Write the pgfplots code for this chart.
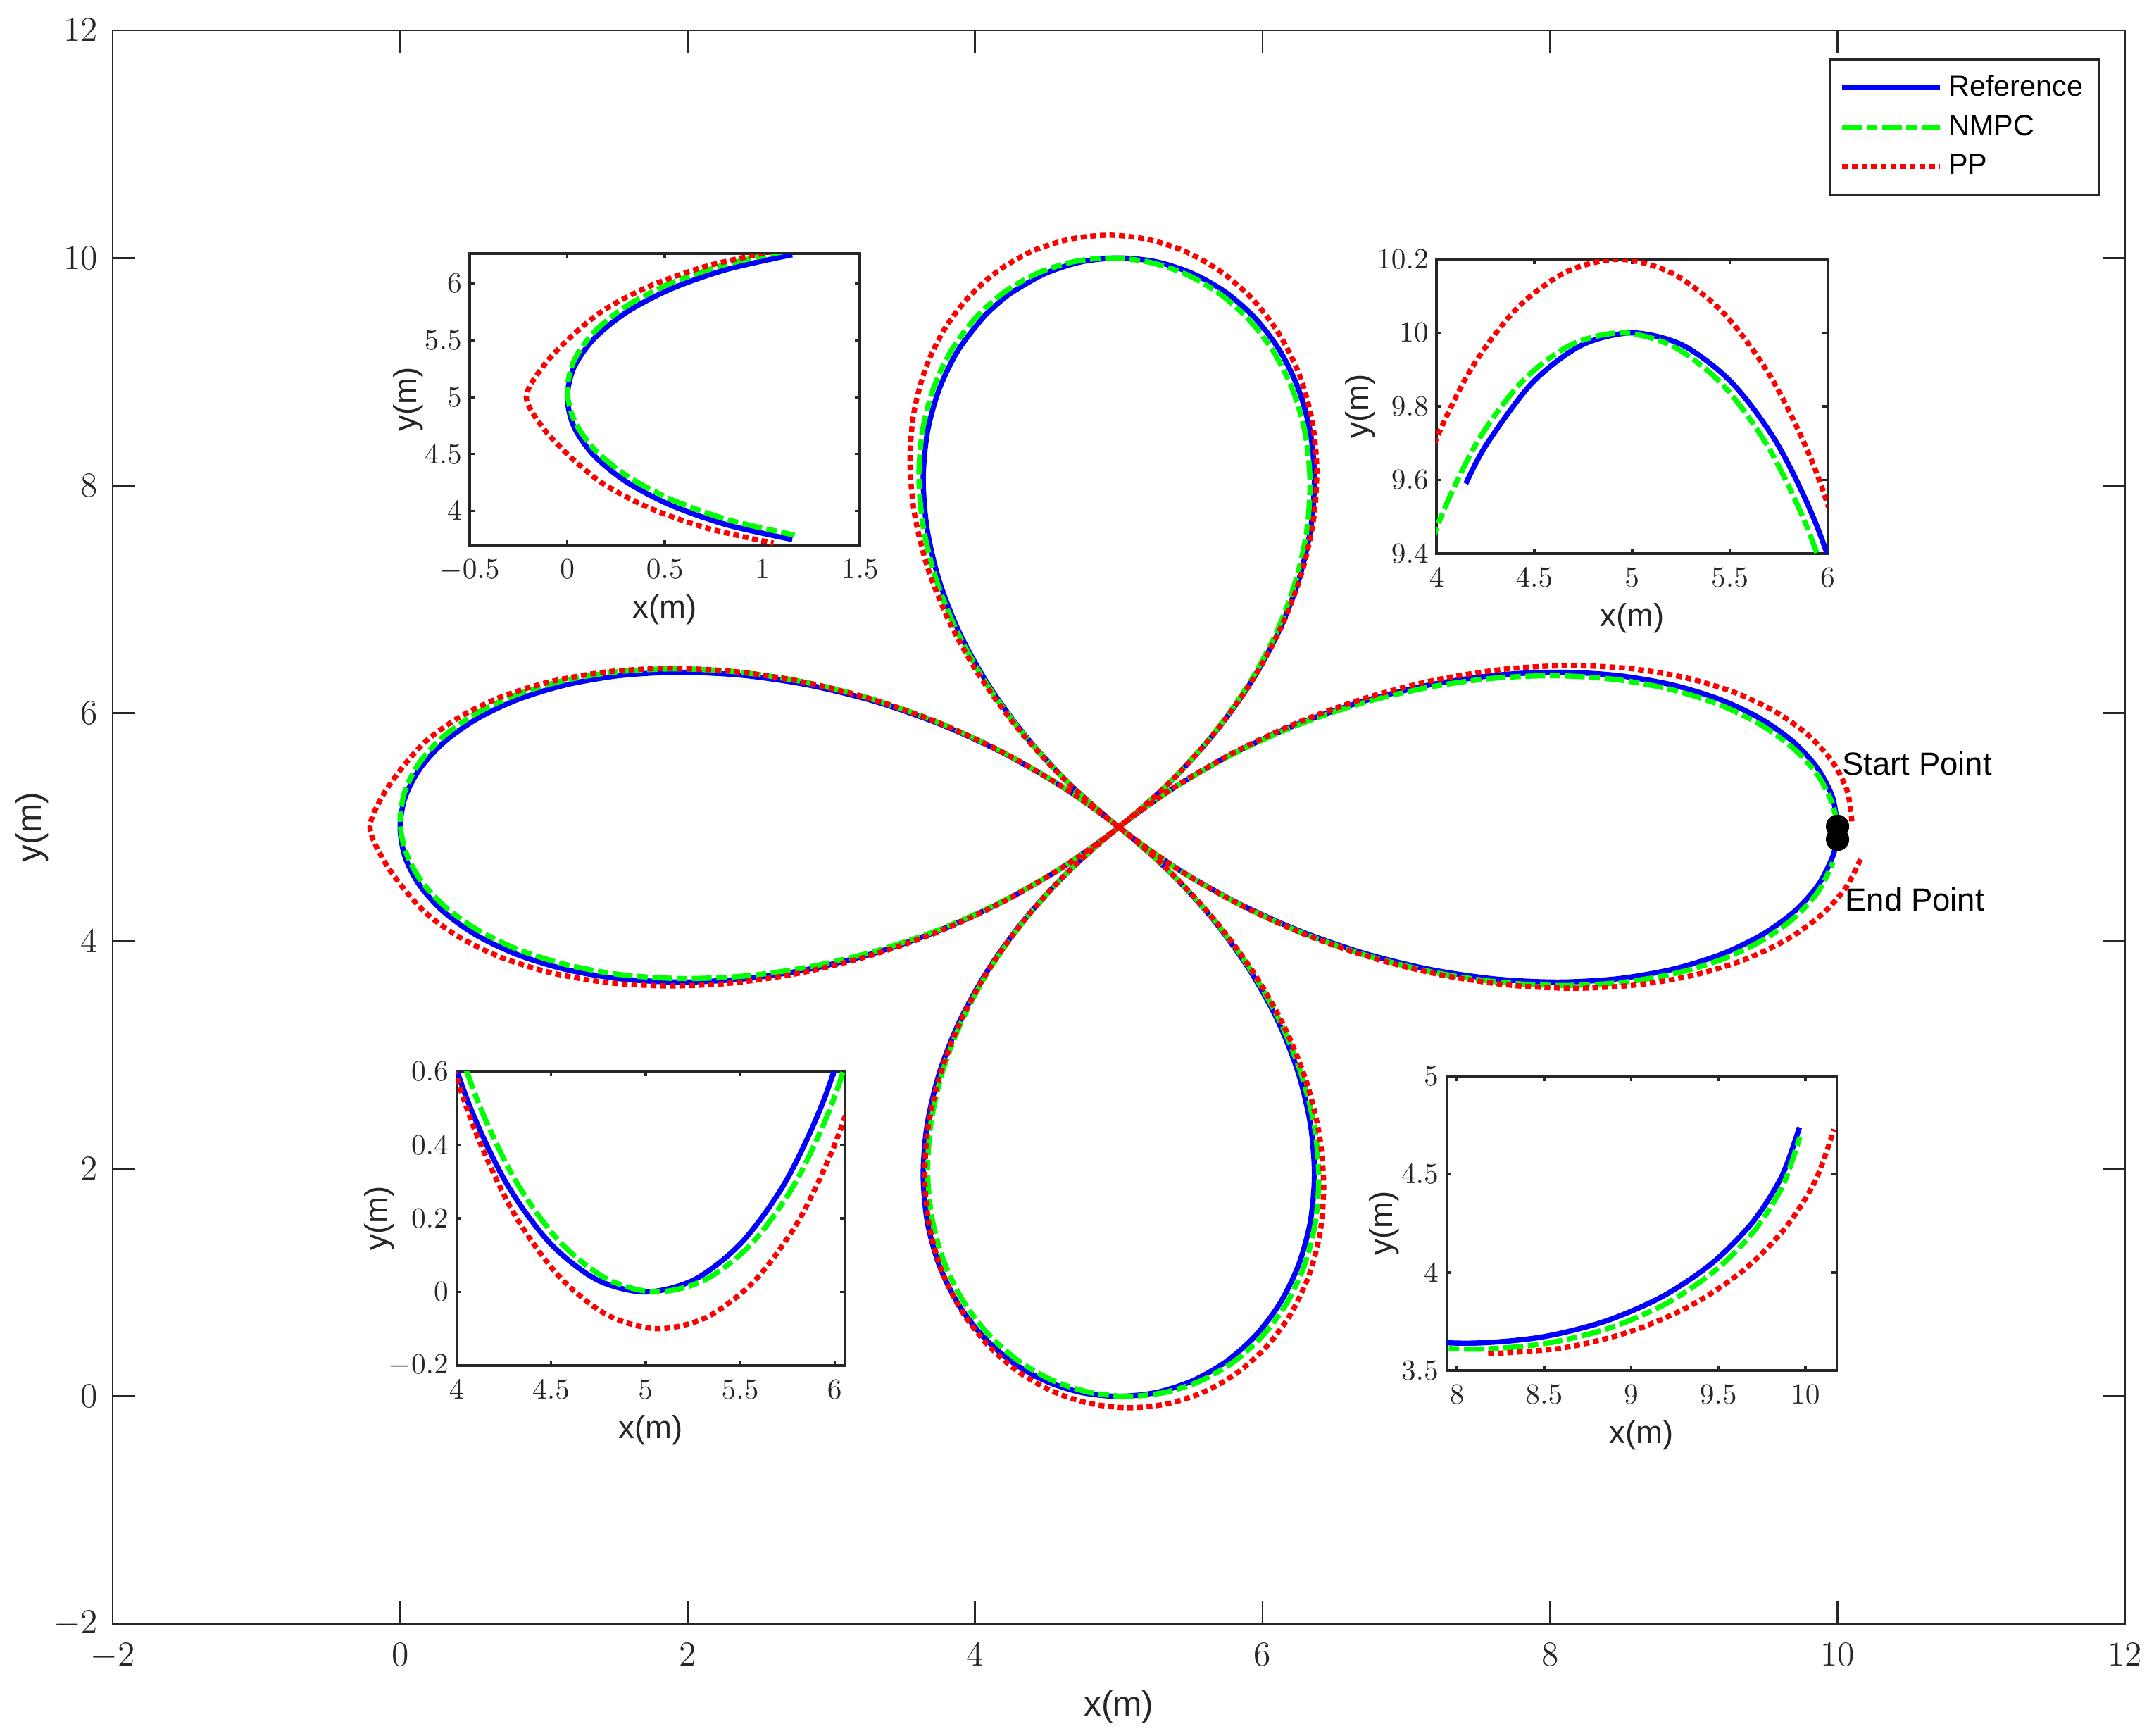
\documentclass[border=0pt]{standalone}
\usepackage{fontspec}
\setmainfont{Liberation Sans}
\usepackage{pgfplots}
\usepackage{pgfplotstable}
\pgfplotsset{compat=1.18}

\definecolor{mgray}{rgb}{0.15,0.15,0.15}
\definecolor{mblue}{rgb}{0,0,1}
\definecolor{mgreen}{rgb}{0,1,0}
\definecolor{mred}{rgb}{1,0,0}

% reference path
\pgfplotstableread{
x y
10.000 5.000
9.966 5.260
9.864 5.511
9.697 5.744
9.468 5.950
9.183 6.121
8.847 6.250
8.469 6.332
8.056 6.361
7.619 6.334
7.165 6.250
6.706 6.108
6.250 5.908
5.808 5.654
5.388 5.350
5.000 5.000
4.650 4.612
4.346 4.192
4.092 3.750
3.892 3.294
3.750 2.835
3.666 2.381
3.639 1.944
3.668 1.531
3.750 1.153
3.879 0.818
4.050 0.532
4.256 0.303
4.489 0.136
4.740 0.034
5.000 0.000
5.260 0.034
5.511 0.136
5.744 0.303
5.950 0.532
6.121 0.818
6.250 1.153
6.332 1.531
6.361 1.944
6.334 2.381
6.250 2.835
6.108 3.294
5.908 3.750
5.654 4.192
5.350 4.612
5.000 5.000
4.612 5.350
4.192 5.654
3.750 5.908
3.294 6.108
2.835 6.250
2.381 6.334
1.944 6.361
1.531 6.332
1.153 6.250
0.818 6.121
0.532 5.950
0.303 5.744
0.136 5.511
0.034 5.260
0.000 5.000
0.034 4.740
0.136 4.489
0.303 4.256
0.532 4.050
0.818 3.879
1.153 3.750
1.531 3.668
1.944 3.639
2.381 3.666
2.835 3.750
3.294 3.892
3.750 4.092
4.192 4.346
4.612 4.650
5.000 5.000
5.350 5.388
5.654 5.808
5.908 6.250
6.108 6.706
6.250 7.165
6.334 7.619
6.361 8.056
6.332 8.469
6.250 8.847
6.121 9.183
5.950 9.468
5.744 9.697
5.511 9.864
5.260 9.966
5.000 10.000
4.740 9.966
4.489 9.864
4.256 9.697
4.150 9.590
4.050 9.468
3.879 9.183
3.750 8.847
3.668 8.469
3.639 8.056
3.666 7.619
3.750 7.165
3.892 6.706
4.092 6.250
4.346 5.808
4.650 5.388
5.000 5.000
5.388 4.650
5.808 4.346
6.250 4.092
6.706 3.892
7.165 3.750
7.619 3.666
8.056 3.639
8.469 3.668
8.847 3.750
9.183 3.879
9.468 4.050
9.697 4.256
9.864 4.489
9.966 4.740
9.994 4.887
}\refdata

% NMPC tracking
\pgfplotstableread{
x y
10.000 5.000
9.963 5.210
9.859 5.463
9.689 5.697
9.458 5.905
9.171 6.079
8.835 6.211
8.456 6.297
8.043 6.330
7.605 6.308
7.153 6.228
6.695 6.091
6.241 5.896
5.801 5.646
5.385 5.346
5.000 5.000
4.654 4.615
4.354 4.199
4.104 3.759
3.910 3.305
3.772 2.847
3.692 2.395
3.670 1.957
3.703 1.544
3.789 1.165
3.921 0.829
4.095 0.542
4.303 0.311
4.538 0.141
4.790 0.037
5.050 0.000
5.310 0.032
5.560 0.131
5.791 0.296
5.994 0.523
6.162 0.806
6.288 1.140
6.366 1.518
6.391 1.930
6.361 2.368
6.272 2.822
6.125 3.283
5.921 3.741
5.662 4.186
5.354 4.608
5.000 5.000
4.608 5.354
4.186 5.662
3.741 5.921
3.283 6.125
2.822 6.272
2.368 6.361
1.930 6.391
1.518 6.366
1.140 6.288
0.806 6.162
0.523 5.994
0.296 5.791
0.131 5.560
0.032 5.310
0.000 5.050
0.037 4.790
0.141 4.538
0.311 4.303
0.542 4.095
0.829 3.921
1.165 3.789
1.544 3.703
1.957 3.670
2.395 3.692
2.847 3.772
3.305 3.910
3.759 4.104
4.199 4.354
4.615 4.654
5.000 5.000
5.346 5.385
5.646 5.801
5.896 6.241
6.091 6.695
6.228 7.153
6.308 7.605
6.330 8.043
6.297 8.456
6.211 8.835
6.079 9.171
5.905 9.458
5.697 9.689
5.463 9.859
5.210 9.963
4.950 10.000
4.690 9.968
4.440 9.869
4.209 9.704
4.006 9.477
3.838 9.194
3.712 8.860
3.634 8.482
3.609 8.070
3.640 7.632
3.728 7.178
3.875 6.717
4.079 6.259
4.338 5.814
4.646 5.392
5.000 5.000
5.392 4.646
5.814 4.338
6.259 4.079
6.717 3.875
7.178 3.728
7.632 3.640
8.070 3.609
8.482 3.634
8.860 3.712
9.194 3.838
9.477 4.006
9.704 4.209
9.869 4.440
9.968 4.690
}\nmpcdata

% pure pursuit tracking
\pgfplotstableread{
x y
10.100 5.051
10.068 5.316
9.966 5.571
9.798 5.807
9.567 6.014
9.278 6.186
8.937 6.314
8.552 6.394
8.131 6.419
7.685 6.388
7.221 6.297
6.751 6.147
6.284 5.939
5.831 5.676
5.400 5.361
5.000 5.000
4.648 4.608
4.343 4.184
4.089 3.736
3.891 3.274
3.752 2.807
3.671 2.345
3.650 1.899
3.684 1.478
3.772 1.091
3.908 0.748
4.086 0.455
4.299 0.218
4.538 0.045
4.796 -0.062
5.061 -0.100
5.326 -0.068
5.581 0.033
5.816 0.200
6.023 0.431
6.194 0.720
6.322 1.061
6.401 1.445
6.425 1.866
6.393 2.313
6.302 2.776
6.151 3.247
5.942 3.714
5.677 4.168
5.362 4.600
5.000 5.000
4.602 5.358
4.172 5.671
3.719 5.931
3.252 6.135
2.781 6.281
2.316 6.368
1.867 6.395
1.444 6.365
1.057 6.281
0.713 6.149
0.421 5.973
0.186 5.762
0.015 5.524
-0.125 5.268
-0.210 5.000
-0.125 4.732
0.015 4.476
0.186 4.238
0.421 4.027
0.713 3.851
1.057 3.719
1.444 3.635
1.867 3.605
2.316 3.632
2.781 3.719
3.252 3.865
3.719 4.069
4.172 4.329
4.602 4.642
5.000 5.000
5.359 5.399
5.670 5.832
5.929 6.289
6.131 6.760
6.273 7.236
6.355 7.707
6.377 8.162
6.342 8.591
6.252 8.986
6.113 9.336
5.932 9.635
5.715 9.875
5.471 10.052
5.209 10.161
4.938 10.200
4.668 10.167
4.408 10.065
4.168 9.894
3.957 9.658
3.782 9.364
3.652 9.017
3.572 8.624
3.547 8.196
3.580 7.740
3.673 7.267
3.827 6.788
4.040 6.311
4.310 5.848
4.631 5.408
5.000 5.000
5.404 4.636
5.840 4.320
6.300 4.055
6.774 3.848
7.252 3.700
7.723 3.612
8.179 3.585
8.608 3.615
9.001 3.700
9.350 3.835
9.646 4.012
9.885 4.227
10.058 4.469
10.164 4.730
}\ppdata

\pgfplotsset{
  refline/.style={mblue, line width=1.8pt, smooth},
  nmpcline/.style={mgreen, line width=1.8pt, smooth,
    dash pattern=on 6.8pt off 1.6pt on 3.6pt off 1.6pt},
  ppline/.style={mred, line width=1.8pt, smooth, dash pattern=on 2pt off 1.3pt},
  inset/.style={
    scale only axis, anchor=south west, width=4.71cm, height=3.54cm,
    axis background/.style={fill=white},
    tick align=inside, major tick length=0.06cm,
    xtick pos=both, ytick pos=both,
    axis line style={mgray, line width=0.85pt},
    tick style={mgray, line width=0.85pt},
    tick label style={font=\fontsize{10}{11}\selectfont, color=mgray, inner sep=0pt},
    xticklabel style={yshift=-0.17cm},
    yticklabel style={xshift=-0.09cm},
    label style={font=\fontsize{11}{13}\selectfont, color=mgray},
    xlabel={x(m)}, ylabel={y(m)},
    x label style={at={(axis description cs:0.5,-0.22)}, anchor=center},
    unbounded coords=jump,
  },
}

\begin{document}
\begin{tikzpicture}
\useasboundingbox (-1.36cm,-1.351cm) rectangle (24.64cm,19.60cm);

\begin{axis}[
  at={(0,0)}, anchor=south west,
  scale only axis, width=24.29cm, height=19.235cm,
  xmin=-2, xmax=12, ymin=-2, ymax=12,
  xtick={-2,0,...,12}, ytick={-2,0,...,12},
  tick align=inside, major tick length=0.27cm,
  xtick pos=both, ytick pos=both,
  axis line style={mgray, line width=0.65pt},
  tick style={mgray, line width=0.65pt},
  tick label style={font=\fontsize{12}{14}\selectfont, color=mgray, inner sep=0pt},
  xticklabel style={yshift=-0.23cm},
  yticklabel style={xshift=-0.17cm},
  xlabel={x(m)}, ylabel={y(m)},
  label style={font=\fontsize{12}{14}\selectfont, color=mgray},
  x label style={at={(axis description cs:0.5,-0.052)}, anchor=center},
  y label style={at={(axis description cs:-0.040,0.5)}, anchor=center},
  legend style={at={(axis description cs:1,1)}, anchor=north east,
    xshift=-0.306cm, yshift=-0.34cm, draw=mgray, line width=0.65pt,
    font=\fontsize{10}{12}\selectfont, text=black,
    inner xsep=0.12cm, inner ysep=0.12cm, row sep=1pt,
    /tikz/every even column/.append style={column sep=0.1cm}},
  legend cell align=left,
  legend image code/.code={\draw[#1] (0cm,0cm) -- (1.18cm,0cm);},
]
\addplot[refline] table {\refdata};
\addlegendentry{Reference}
\addplot[nmpcline] table {\nmpcdata};
\addlegendentry{NMPC}
\addplot[ppline] table {\ppdata};
\addlegendentry{PP}
\addplot[only marks, mark=*, mark size=3.8pt, black, forget plot]
  coordinates {(10,5.007) (10,4.893)};
\node[anchor=base west, inner sep=0pt, font=\fontsize{11}{13}\selectfont] at (axis cs:10.03,5.456) {Start Point};
\node[anchor=base west, inner sep=0pt, font=\fontsize{11}{13}\selectfont] at (axis cs:10.05,4.265) {End Point};
\end{axis}

% left tip
\begin{axis}[inset, at={(4.31cm,13.02cm)}, height=3.52cm,
  xmin=-0.5, xmax=1.5, ymin=3.70, ymax=6.26,
  xtick={-0.5,0,0.5,1,1.5}, ytick={4,4.5,5,5.5,6},
  y label style={at={(axis description cs:-0.157,0.5)}, anchor=center}]
\addplot[refline, restrict x to domain=-1:1.2] table {\refdata};
\addplot[nmpcline, restrict x to domain=-1:1.2] table {\nmpcdata};
\addplot[ppline, restrict x to domain=-1:1.2] table {\ppdata};
\end{axis}

% top tip
\begin{axis}[inset, at={(15.98cm,12.92cm)}, width=4.72cm, height=3.55cm,
  xmin=4, xmax=6, ymin=9.4, ymax=10.2,
  xtick={4,4.5,5,5.5,6}, ytick={9.4,9.6,9.8,10,10.2},
  y label style={at={(axis description cs:-0.196,0.5)}, anchor=center}]
\addplot[refline, restrict x to domain=4.14:7] table {\refdata};
\addplot[nmpcline] table {\nmpcdata};
\addplot[ppline] table {\ppdata};
\end{axis}

% bottom tip
\begin{axis}[inset, at={(4.15cm,3.12cm)}, width=4.69cm, height=3.55cm,
  xmin=4, xmax=6.055, ymin=-0.2, ymax=0.6,
  xtick={4,4.5,5,5.5,6}, ytick={-0.2,0,0.2,0.4,0.6},
  y label style={at={(axis description cs:-0.199,0.5)}, anchor=center}]
\addplot[refline] table {\refdata};
\addplot[nmpcline] table {\nmpcdata};
\addplot[ppline] table {\ppdata};
\end{axis}

% right petal, end of run
\begin{axis}[inset, at={(16.10cm,3.06cm)}, height=3.55cm,
  xmin=7.94, xmax=10.18, ymin=3.5, ymax=5,
  xtick={8,8.5,9,9.5,10}, ytick={3.5,4,4.5,5},
  y label style={at={(axis description cs:-0.159,0.5)}, anchor=center}]
\addplot[refline, restrict y to domain=0:4.75] table {\refdata};
\addplot[nmpcline, restrict y to domain=0:4.75] table {\nmpcdata};
\addplot[ppline, restrict y to domain=0:4.75, restrict x to domain=8.17:11] table {\ppdata};
\end{axis}

\end{tikzpicture}
\end{document}
